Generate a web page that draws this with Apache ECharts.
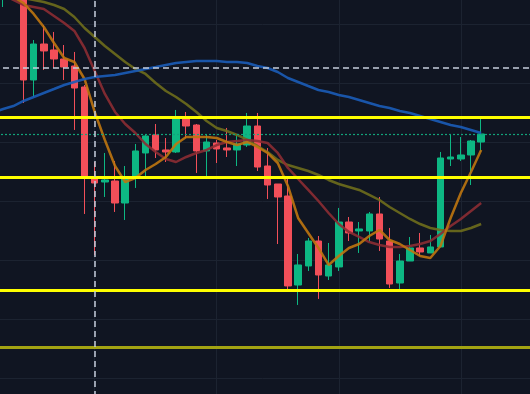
<!DOCTYPE html>
<html><head><meta charset="utf-8">
<script src="https://cdn.jsdelivr.net/npm/echarts@6/dist/echarts.min.js"></script>
<style>
html,body{margin:0;padding:0;background:#101522;overflow:hidden;width:530px;height:394px;position:relative}
#c{position:absolute;left:-7px;top:-35px;width:539px;height:472px}
</style>
</head><body><div id="c"></div>
<script>
// 48 visible candles, one empty slot before and five empty slots after
const categories = Array.from({length: 54}, (_, i) => 'T' + i);
const openV  = [165.76,170.00,166.61,150.51,156.61,155.60,154.07,152.88,149.32,134.07,133.22,133.39,129.66,134.07,138.14,141.19,138.65,138.31,144.07,142.88,138.48,139.83,138.99,138.65,139.49,142.71,135.93,132.88,130.85,115.76,118.99,123.22,117.29,118.82,126.44,124.92,124.92,127.80,123.22,116.10,119.83,122.04,121.19,122.21,137.12,137.12,137.80,140.00];
const closeV = [168.31,167.46,150.51,156.61,155.43,154.07,152.71,149.15,134.24,133.05,133.56,129.66,134.07,138.48,141.02,138.65,138.31,144.07,142.71,138.48,140.00,138.82,138.65,139.66,142.71,135.76,132.71,130.68,115.60,119.16,123.22,117.46,119.16,126.44,124.58,125.26,127.80,123.56,115.93,119.83,122.04,121.36,122.21,137.29,137.46,137.80,140.17,141.36];
const lowV   = [162.88,165.43,146.61,147.63,152.21,152.54,150.51,142.04,127.80,120.85,130.68,128.14,126.78,132.21,134.07,137.29,136.61,138.14,140.68,134.75,134.07,136.44,137.46,135.93,139.16,135.09,130.34,122.71,114.75,112.38,118.14,113.40,116.61,118.14,123.22,121.19,123.05,121.53,115.26,115.09,119.83,120.68,121.19,122.21,135.93,136.78,132.71,138.31];
const highV  = [169.15,170.85,167.46,157.29,159.83,158.65,156.44,155.26,149.66,136.61,138.14,136.78,135.93,139.66,141.36,143.05,140.68,145.43,145.09,143.05,141.19,140.34,142.38,141.36,144.92,144.92,138.99,132.88,133.90,121.02,123.73,124.07,122.88,128.82,127.29,126.44,128.14,130.68,125.43,121.02,123.90,124.58,124.24,138.31,141.36,140.85,140.34,144.07];

// moving averages: first value is the slot just left of the visible area
const maFast = [166.61,165.76,164.58,163.56,161.70,159.49,156.78,154.24,153.56,150.68,145.09,140.34,135.93,133.22,133.90,135.26,136.27,137.46,139.66,140.85,140.85,140.85,140.68,140.00,139.49,140.00,139.16,138.14,136.44,132.55,127.12,124.58,122.04,119.16,120.68,122.04,122.71,124.07,125.09,123.39,122.71,121.70,120.68,120.34,122.38,127.12,131.36,134.92,138.65];
const maMid  = [165.43,164.92,164.07,163.22,162.88,162.54,161.36,160.17,158.82,155.93,152.04,148.14,145.09,143.05,141.53,139.66,138.31,137.12,136.61,137.46,138.14,138.65,139.49,140.00,140.17,140.34,140.17,139.83,138.14,135.60,133.73,131.87,130.00,127.97,126.10,124.75,123.90,123.05,122.55,122.21,122.21,122.38,122.71,123.22,124.41,125.76,126.95,128.31,129.66];
const maSlow = [164.24,164.41,164.58,164.41,164.07,163.73,163.22,162.54,161.19,159.32,157.80,156.27,154.92,153.56,152.38,151.53,150.00,148.65,147.63,146.44,145.09,143.56,142.38,141.87,141.19,140.34,139.33,138.31,136.95,136.10,135.60,135.09,134.41,133.56,132.88,132.38,131.87,131.02,130.17,128.98,127.97,126.95,126.10,125.43,125.09,124.92,124.92,125.43,126.10];
const maLong = [145.00,145.60,146.10,146.95,147.63,148.31,148.98,149.66,150.17,150.68,151.02,151.19,151.36,151.70,152.04,152.38,152.71,153.05,153.39,153.56,153.73,153.73,153.73,153.56,153.56,153.39,152.88,152.54,151.87,150.85,150.17,149.49,148.82,148.48,147.97,147.63,147.12,146.61,146.10,145.76,145.26,144.92,144.41,143.90,143.39,142.88,142.55,142.04,141.53];

const levelLines = [144.24, 134.07, 114.92];
const weakLevel = 105.25;
const crossPrice = 152.54;
const lastPrice = 141.36;
const crossCategory = 'T10';
const gridColumns = [10, 22, 34, 46];

const PAD_BACK = 5;
const padBack = arr => arr.concat(Array(PAD_BACK).fill('-'));
const candles = [['-', '-', '-', '-']]
  .concat(openV.map((o, i) => [o, closeV[i], lowV[i], highV[i]]))
  .concat(Array.from({length: PAD_BACK}, () => ['-', '-', '-', '-']));

const chart = echarts.init(document.getElementById('c'), null, {renderer: 'canvas'});
const maLine = (name, data, color) => ({
  name, type: 'line', data: padBack(data), showSymbol: false, symbol: 'none', smooth: false,
  z: 3, silent: true,
  lineStyle: {color, width: 2.5, opacity: 0.9}
});
chart.setOption({
  backgroundColor: '#101522',
  animation: false,
  grid: {left: 0, right: 0, top: 0, bottom: 0, containLabel: false},
  xAxis: {
    type: 'category', data: categories, boundaryGap: false,
    axisLine: {show: false}, axisTick: {show: false}, axisLabel: {show: false},
    splitLine: {show: true, interval: (i) => gridColumns.includes(i), lineStyle: {color: '#1c2331', width: 1}}
  },
  yAxis: {
    type: 'value', min: 90, max: 170, interval: 10, scale: false,
    axisLine: {show: false}, axisTick: {show: false}, axisLabel: {show: false},
    splitLine: {show: true, lineStyle: {color: '#1c2331', width: 1}}
  },
  series: [
    {
      type: 'candlestick', data: candles, barWidth: 7, z: 2, clip: true, silent: true,
      itemStyle: {color: '#0db783', color0: '#f24f59', borderColor: '#0db783', borderColor0: '#f24f59', borderWidth: 1}
    },
    maLine('slow', maSlow, '#6e6d1c'),
    maLine('mid', maMid, '#8c2c33'),
    maLine('fast', maFast, '#bf760f'),
    maLine('long', maLong, '#1b5cb8'),
    {
      type: 'line', data: categories.map(() => '-'), silent: true, z: 6,
      markLine: {
        silent: true, symbol: ['none', 'none'], animation: false, z: 6,
        label: {show: false},
        data: [
          ...levelLines.map(v => ({yAxis: v, lineStyle: {color: '#ffff00', width: 3, type: 'solid'}})),
          {yAxis: weakLevel, lineStyle: {color: '#a3a312', width: 3, type: 'solid'}},
          {yAxis: crossPrice, lineStyle: {color: '#c5cddb', width: 1.5, type: [6, 4]}},
          {yAxis: lastPrice, lineStyle: {color: '#12a37b', width: 1.2, type: [2, 2]}},
          {xAxis: crossCategory, lineStyle: {color: '#c5cddb', width: 1.5, type: [6, 4]}}
        ]
      }
    }
  ]
});
</script>
</body></html>
